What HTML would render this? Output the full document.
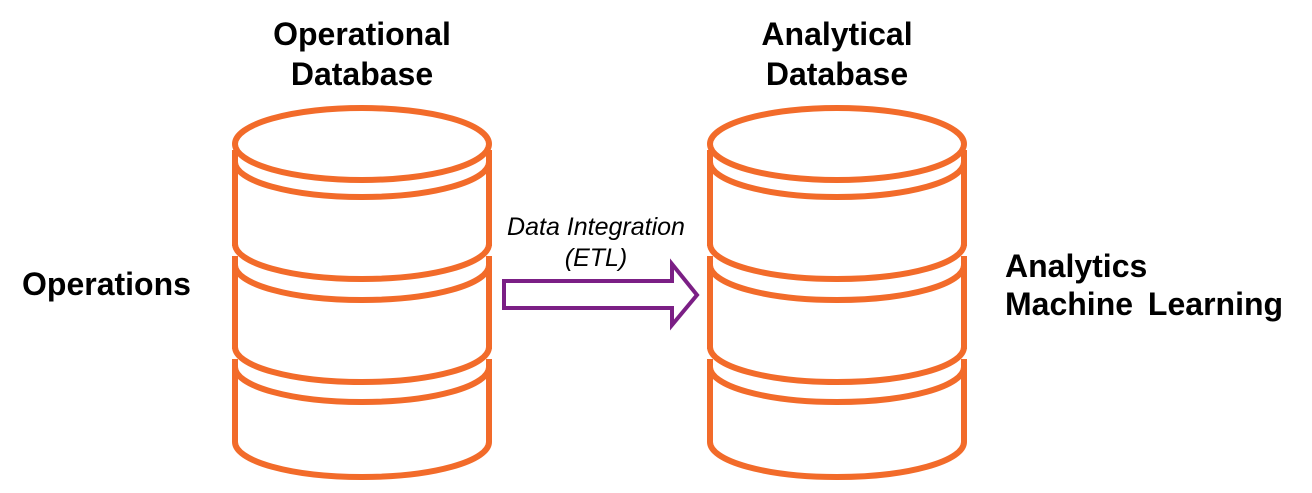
<!DOCTYPE html>
<html><head><meta charset="utf-8"><style>
html,body{margin:0;padding:0;background:#fff;width:1312px;height:493px;overflow:hidden}
text{font-family:"Liberation Sans",Arial,sans-serif}
.b{font-weight:bold;font-size:32px}
.i{font-style:italic;font-size:25px}
</style></head><body>
<svg width="1312" height="493" viewBox="0 0 1312 493" xmlns="http://www.w3.org/2000/svg">
<defs>
<g id="cyl" fill="none" stroke="#F26B2A" stroke-width="6">
  <ellipse cx="0" cy="144" rx="127" ry="36"/>
  <path d="M-127 162 A127 35 0 0 0 127 162"/>
  <path d="M-127 244 A127 35 0 0 0 127 244"/>
  <path d="M-127 265 A127 35 0 0 0 127 265"/>
  <path d="M-127 347 A127 35 0 0 0 127 347"/>
  <path d="M-127 367 A127 35 0 0 0 127 367"/>
  <path d="M-127 442 A127 35 0 0 0 127 442"/>
  <path d="M-127 150 V246 M-127 256 V349 M-127 359 V442"/>
  <path d="M127 150 V246 M127 256 V349 M127 359 V442"/>
</g>
</defs>
<use href="#cyl" x="362" y="0"/>
<use href="#cyl" x="837" y="0"/>
<polygon points="504,281 672,281 672,264 697,295 672,325 672,308 504,308" fill="#fff" stroke="#7B1F85" stroke-width="4"/>
<g fill="#000">
<text class="b" x="362" y="45" text-anchor="middle">Operational</text>
<text class="b" x="362" y="85" text-anchor="middle">Database</text>
<text class="b" x="837" y="45" text-anchor="middle">Analytical</text>
<text class="b" x="837" y="85" text-anchor="middle">Database</text>
<text class="b" x="22" y="295">Operations</text>
<text class="b" x="1005" y="277">Analytics</text>
<text class="b" x="1005" y="315" word-spacing="6">Machine Learning</text>
</g>
<g fill="#000" text-anchor="middle">
<text class="i" x="596" y="235">Data Integration</text>
<text class="i" x="596" y="266">(ETL)</text>
</g>
</svg>
</body></html>
